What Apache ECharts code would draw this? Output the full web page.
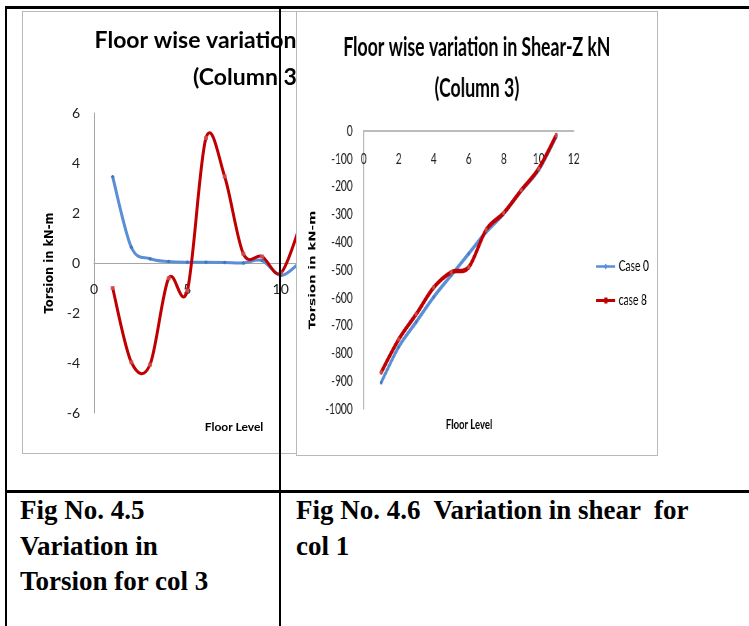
<!DOCTYPE html>
<html>
<head>
<meta charset="utf-8">
<script src="https://cdn.jsdelivr.net/npm/echarts@6/dist/echarts.min.js"></script>
<style>
  body { margin: 0; width: 749px; height: 626px; background: #fff; position: relative; overflow: hidden; }
  .box { position: absolute; border: 1px solid #b9b9b9; box-sizing: border-box; background: #fff; }
  #leftBox { left: 22px; top: 11px; width: 452px; height: 443px; }
  #rightBox { left: 296px; top: 11px; width: 362px; height: 445px; }
  #leftChart { position: absolute; left: 0; top: 0; width: 450px; height: 441px; }
  /* the second chart is squeezed sideways in the reference */
  #rightChart { position: absolute; left: 0; top: 0; width: 529px; height: 443px; transform: scaleX(0.68); transform-origin: 0 0; }
  .rule { position: absolute; background: #000; z-index: 5; }
  .caption { position: absolute; top: 493px; font-family: 'Liberation Serif', serif; font-weight: bold; font-size: 27px; line-height: 35.5px; color: #000; white-space: pre; }
</style>
</head>
<body>
<div id="leftBox" class="box"><div id="leftChart"></div></div>
<div id="rightBox" class="box"><div id="rightChart"></div></div>

<div class="rule" style="left:5px;top:6px;width:744px;height:2.5px"></div>
<div class="rule" style="left:5px;top:6px;width:2px;height:620px"></div>
<div class="rule" style="left:279px;top:6px;width:2px;height:620px"></div>
<div class="rule" style="left:5px;top:490px;width:744px;height:2.5px"></div>

<div class="caption" style="left:20px">Fig No. 4.5
Variation in
Torsion for col 3</div>
<div class="caption" style="left:296px">Fig No. 4.6  Variation in shear  for
col 1</div>

<script>
const floorLevels = [1, 2, 3, 4, 5, 6, 7, 8, 9, 10, 11]
const seriesNames = ['Case 0', 'case 8']

// torsion, kN-m (fig 4.5)
const torsionCase0 = [3.45, 0.63, 0.17, 0.06, 0.03, 0.03, 0.02, 0.0, 0.1, -0.5, 0.0]
const torsionCase8 = [-1.0, -3.97, -4.07, -0.61, -1.1, 5.0, 3.46, 0.37, 0.26, -0.41, 1.4]
const torsionXTicks = [0, 5, 10, 15]
const torsionYTicks = [-6, -4, -2, 0, 2, 4, 6]

// shear-z, kN (fig 4.6)
const shearCase0 = [-905, -777, -687, -597, -519, -441, -363, -297, -215, -140, -20]
const shearCase8 = [-868, -750, -659, -563, -508, -490, -355, -295, -213, -135, -15]
const shearXTicks = [0, 2, 4, 6, 8, 10, 12]
const shearYTicks = [-1000, -900, -800, -700, -600, -500, -400, -300, -200, -100, 0]

const blue = '#5a8fd6'
const red = '#c00000'
const blueMarker = '#3d6fb8'
const redMarker = '#d05a5a'

function pairs(values) {
    return floorLevels.map((f, i) => [f, values[i]])
}

function ticksAxis(ticks) {
    return {
        min: ticks[0],
        max: ticks[ticks.length - 1],
        interval: ticks[1] - ticks[0]
    }
}

// smoothed line the way the spreadsheet draws it (cardinal spline, one bezier per gap)
function curveSeries(name, values, color, width) {
    const last = values.length - 1
    return {
        name: name,
        type: 'custom',
        data: pairs(values),
        silent: true,
        z: 2,
        renderItem: function(params, api) {
            const i = params.dataIndex
            if (i >= last) return null
            const pt = (k) => {
                const j = Math.max(0, Math.min(last, k))
                return api.coord([floorLevels[j], values[j]])
            }
            const p0 = pt(i - 1)
            const p1 = pt(i)
            const p2 = pt(i + 1)
            const p3 = pt(i + 2)
            return {
                type: 'bezierCurve',
                shape: {
                    x1: p1[0], y1: p1[1],
                    x2: p2[0], y2: p2[1],
                    cpx1: p1[0] + (p2[0] - p0[0]) / 6,
                    cpy1: p1[1] + (p2[1] - p0[1]) / 6,
                    cpx2: p2[0] - (p3[0] - p1[0]) / 6,
                    cpy2: p2[1] - (p3[1] - p1[1]) / 6
                },
                style: { stroke: color, lineWidth: width, fill: 'none', lineCap: 'round' }
            }
        }
    }
}

function markerSeries(name, values, color, symbol) {
    return {
        name: name,
        type: 'scatter',
        data: pairs(values),
        symbol: symbol,
        symbolSize: 4,
        itemStyle: { color: color },
        silent: true,
        z: 3
    }
}

const plainNumber = (v) => String(v)

// left chart: torsion
const leftChart = echarts.init(document.getElementById('leftChart'))
leftChart.setOption({
    animation: false,
    title: {
        text: 'Floor wise variation in Torsion\n(Column 3)',
        left: 'center',
        top: 5,
        textStyle: { fontFamily: 'Lato', fontWeight: 'bold', fontSize: 23, lineHeight: 37, color: '#000' }
    },
    grid: { left: 71, top: 101, width: 280, height: 300 },
    // x axis sits on the zero line, labels just under it
    xAxis: Object.assign({
        type: 'value',
        position: 'bottom',
        offset: -150,
        axisLine: { show: true, onZero: false, lineStyle: { color: '#a6a6a6', width: 1 } },
        axisTick: { show: false },
        splitLine: { show: false },
        axisLabel: { margin: 19, fontFamily: 'Lato', fontSize: 14, color: '#222' }
    }, ticksAxis(torsionXTicks)),
    yAxis: Object.assign({
        type: 'value',
        name: 'Torsion in kN-m',
        nameLocation: 'middle',
        nameGap: 38,
        nameTextStyle: { fontFamily: 'DejaVu Sans', fontWeight: 'bold', fontSize: 11.5, color: '#000' },
        axisLine: { show: true, onZero: false, lineStyle: { color: '#a6a6a6', width: 1 } },
        axisTick: { show: false },
        splitLine: { show: false },
        axisLabel: { margin: 14, fontFamily: 'Lato', fontSize: 14, color: '#222', formatter: plainNumber }
    }, ticksAxis(torsionYTicks)),
    graphic: [
        {
            type: 'text', x: 211, y: 415,
            style: { text: 'Floor Level', align: 'center', verticalAlign: 'middle', font: 'bold 12px Lato', fill: '#000' }
        }
    ],
    series: [
        curveSeries(seriesNames[0], torsionCase0, blue, 3),
        curveSeries(seriesNames[1], torsionCase8, red, 3),
        markerSeries(seriesNames[0], torsionCase0, blueMarker, 'diamond'),
        markerSeries(seriesNames[1], torsionCase8, redMarker, 'rect')
    ]
})

// right chart: shear
const rightChart = echarts.init(document.getElementById('rightChart'))
rightChart.setOption({
    animation: false,
    title: {
        text: 'Floor wise variation in Shear-Z kN\n(Column 3)',
        left: 'center',
        top: 10,
        textStyle: { fontFamily: 'Lato', fontWeight: 'bold', fontSize: 26, lineHeight: 41, color: '#000' }
    },
    legend: {
        orient: 'vertical',
        left: 435,
        top: 242,
        itemWidth: 28,
        itemHeight: 6,
        itemGap: 19,
        data: [
            {
                name: seriesNames[0],
                icon: 'path://M0,1.75L28,1.75L28,4.25L0,4.25Z M14,0L17,3L14,6L11,3Z',
                itemStyle: { color: blue }
            },
            {
                name: seriesNames[1],
                icon: 'path://M0,1.5L28,1.5L28,4.5L0,4.5Z M12,0L16.5,0L16.5,6L12,6Z',
                itemStyle: { color: red }
            }
        ],
        textStyle: { fontFamily: 'Lato', fontSize: 15, color: '#000' }
    },
    grid: { left: 98, top: 119, width: 309, height: 278 },
    // zero is at the top here, so the x axis runs along the top edge
    xAxis: Object.assign({
        type: 'value',
        position: 'bottom',
        offset: -278,
        axisLine: { show: true, onZero: false, lineStyle: { color: '#a6a6a6', width: 1.5 } },
        axisTick: { show: false },
        splitLine: { show: false },
        axisLabel: { margin: 21, fontFamily: 'Lato', fontSize: 15, color: '#222' }
    }, ticksAxis(shearXTicks)),
    yAxis: Object.assign({
        type: 'value',
        name: 'Torsion in kN-m',
        nameLocation: 'middle',
        nameGap: 54,
        nameTextStyle: { fontFamily: 'DejaVu Sans', fontWeight: 'bold', fontSize: 13.5, color: '#000' },
        axisLine: { show: true, onZero: false, lineStyle: { color: '#a6a6a6', width: 1.5 } },
        axisTick: { show: false },
        splitLine: { show: false },
        axisLabel: { margin: 16, fontFamily: 'Lato', fontSize: 15, color: '#222', formatter: plainNumber }
    }, ticksAxis(shearYTicks)),
    graphic: [
        {
            type: 'text', x: 253, y: 412,
            style: { text: 'Floor Level', align: 'center', verticalAlign: 'middle', font: 'bold 14px Lato', fill: '#000' }
        }
    ],
    series: [
        curveSeries(seriesNames[0], shearCase0, blue, 4),
        curveSeries(seriesNames[1], shearCase8, red, 4.5),
        markerSeries(seriesNames[0], shearCase0, blueMarker, 'diamond'),
        markerSeries(seriesNames[1], shearCase8, redMarker, 'rect')
    ]
})
</script>
</body>
</html>
